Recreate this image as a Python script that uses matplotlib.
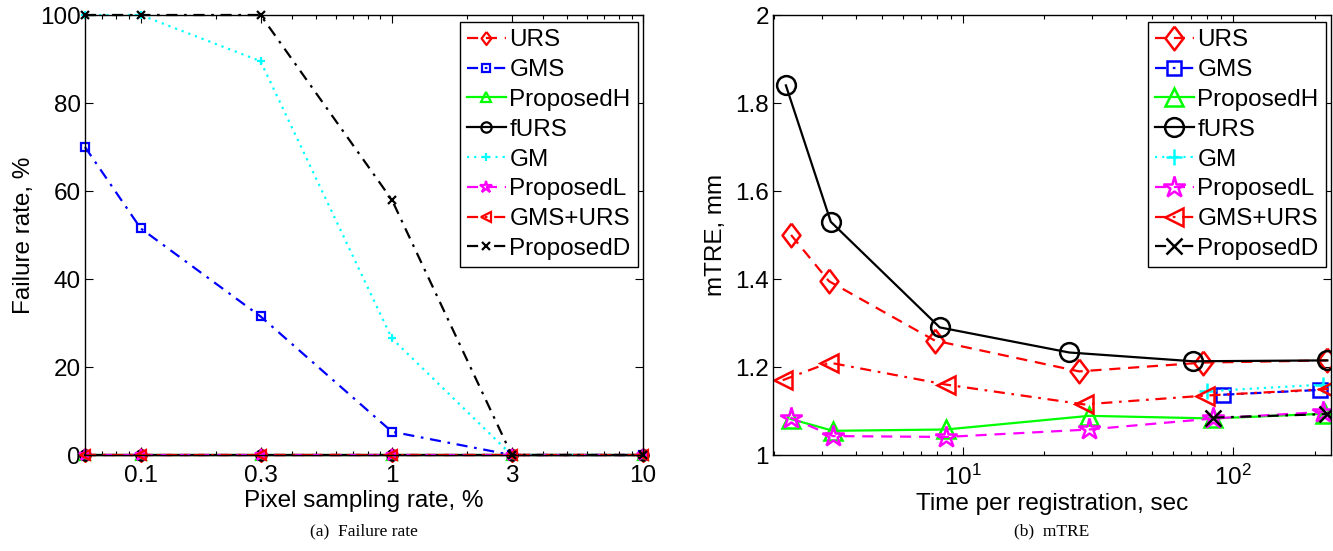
# coding: utf-8

import numpy as np
import matplotlib
matplotlib.use("agg")
import matplotlib.pyplot as plt
from matplotlib.ticker import FixedLocator, FixedFormatter, LogLocator, NullFormatter

plt.rcParams["font.family"] = ["Liberation Sans", "DejaVu Sans"]
plt.rcParams["mathtext.fontset"] = "custom"
plt.rcParams["mathtext.rm"] = "Liberation Sans"
plt.rcParams["mathtext.default"] = "regular"

# ## Data: (a) failure rate vs pixel sampling rate ##
rate = [0.06, 0.1, 0.3, 1, 3, 10]
rate_ticks = [0.1, 0.3, 1, 3, 10]
rate_ticklabels = ["0.1", "0.3", "1", "3", "10"]
fail_urs = [0, 0, 0, 0, 0, 0]
fail_gms = [70, 51.5, 31.5, 5.3, 0, 0]
fail_proph = [0, 0, 0, 0, 0, 0]
fail_furs = [0, 0, 0, 0, 0, 0]
fail_gm = [100, 100, 89.5, 26.5, 0, 0]
fail_propl = [0, 0, 0, 0, 0, 0]
fail_gmsurs = [0, 0, 0, 0, 0, 0]
fail_propd = [100, 100, 100, 58, 0, 0]

# ## Data: (b) mTRE vs time per registration ##
t_urs = [2.31, 3.19, 7.87, 26.9, 77.4, 223]
m_urs = [1.50, 1.395, 1.26, 1.19, 1.21, 1.215]
t_gms = [91.8, 210]
m_gms = [1.137, 1.148]
t_proph = [2.3, 3.3, 8.65, 29.3, 84.4, 219]
m_proph = [1.082, 1.055, 1.058, 1.089, 1.083, 1.094]
t_furs = [2.21, 3.24, 8.2, 24.7, 71, 223]
m_furs = [1.84, 1.53, 1.29, 1.233, 1.213, 1.215]
t_gm = [80, 215]
m_gm = [1.145, 1.16]
t_propl = [2.3, 3.3, 8.65, 29.3, 84.4, 215]
m_propl = [1.085, 1.043, 1.041, 1.058, 1.083, 1.098]
t_gmsurs = [2.15, 3.2, 8.65, 28, 78.7, 225]
m_gmsurs = [1.17, 1.21, 1.16, 1.115, 1.135, 1.15]
t_propd = [84.4, 223]
m_propd = [1.085, 1.093]

labels = ["URS", "GMS", "ProposedH", "fURS", "GM", "ProposedL", "GMS+URS",
          "ProposedD"]
colors = ["#ff0000", "#0000ff", "#00ff00", "#000000", "#00ffff", "#ff00ff",
          "#ff0000", "#000000"]
dash = (0, (5, 3.5))
dashdot = (0, (5, 3, 1.2, 3))
dots = (0, (1, 2.2))
lstyles = [dash, dashdot, "-", "-", dots, dash, dashdot, dashdot]
diamond = [(0, 1), (0.76, 0), (0, -1), (-0.76, 0), (0, 1)]
markers = [diamond, "s", "^", "o", "+", "*", "<", "x"]
# marker sizes (pt) for the big markers in the right panel
big_ms = [17, 10.5, 13.5, 13.5, 11, 16, 13.5, 11]

fs = 17.5


def _style_axes(ax):
    ax.tick_params(which="both", direction="in", top=True, right=True,
                   labelsize=fs, width=0.8)
    ax.tick_params(which="major", length=6)
    ax.tick_params(which="minor", length=3)
    ax.tick_params(axis="y", pad=3)
    ax.tick_params(axis="x", pad=7)
    for s in ax.spines.values():
        s.set_linewidth(1.0)


def _legend(ax):
    leg = ax.legend(loc="upper right", bbox_to_anchor=(0.991, 0.984),
                    fontsize=fs, frameon=True, fancybox=False, framealpha=1,
                    edgecolor="k", borderaxespad=0, borderpad=0.3,
                    handlelength=1.6, handletextpad=0.15, labelspacing=0.32)
    leg.get_frame().set_linewidth(1.0)


fig = plt.figure(figsize=(13.33, 5.51), dpi=100)
axl = fig.add_axes([85 / 1333, 96 / 551, 558 / 1333, 440 / 551])
axr = fig.add_axes([773 / 1333, 96 / 551, 558 / 1333, 440 / 551])

# ## Left: failure rate ##
fails = [fail_urs, fail_gms, fail_proph, fail_furs, fail_gm, fail_propl,
         fail_gmsurs, fail_propd]
for i, y in enumerate(fails):
    axl.plot(rate, y, ls=lstyles[i], color=colors[i], marker=markers[i],
             ms=big_ms[i] * 0.55, mew=1.6, mfc="none", lw=1.6,
             label=labels[i], clip_on=False)
axl.set_xscale("log")
axl.set_xlim(rate[0], rate[-1])
axl.set_ylim(0, 100)
axl.xaxis.set_major_locator(FixedLocator(rate_ticks))
axl.xaxis.set_major_formatter(FixedFormatter(rate_ticklabels))
axl.xaxis.set_minor_locator(LogLocator(base=10, subs=np.arange(2, 10)))
axl.xaxis.set_minor_formatter(NullFormatter())
axl.set_yticks([0, 20, 40, 60, 80, 100])
_style_axes(axl)
axl.set_xlabel("Pixel sampling rate, %", fontsize=fs, labelpad=2)
axl.set_ylabel("Failure rate, %", fontsize=fs, labelpad=4)
_legend(axl)

# ## Right: mTRE ##
ts = [t_urs, t_gms, t_proph, t_furs, t_gm, t_propl, t_gmsurs, t_propd]
ms_ = [m_urs, m_gms, m_proph, m_furs, m_gm, m_propl, m_gmsurs, m_propd]
for i in range(len(ts)):
    axr.plot(ts[i], ms_[i], ls=lstyles[i], color=colors[i], marker=markers[i],
             ms=big_ms[i], mew=1.8, mfc="none", lw=1.6, label=labels[i])
axr.set_xscale("log")
axr.set_xlim(1.98, 230)
axr.set_ylim(1, 2)
axr.set_yticks([1, 1.2, 1.4, 1.6, 1.8, 2])
axr.set_yticklabels(["1", "1.2", "1.4", "1.6", "1.8", "2"])
axr.xaxis.set_major_locator(FixedLocator([10, 100]))
axr.xaxis.set_major_formatter(FixedFormatter([r"$10^{1}$", r"$10^{2}$"]))
axr.xaxis.set_minor_locator(LogLocator(base=10, subs=np.arange(2, 10)))
axr.xaxis.set_minor_formatter(NullFormatter())
_style_axes(axr)
axr.set_xlabel("Time per registration, sec", fontsize=fs, labelpad=2)
axr.set_ylabel("mTRE, mm", fontsize=fs, labelpad=6)
_legend(axr)

# ## Captions ##
fig.text(364 / 1333, 1 - 531 / 551, "(a)  Failure rate", ha="center",
         va="center", fontsize=12.5, family=["Liberation Serif"])
fig.text(1052 / 1333, 1 - 531 / 551, "(b)  mTRE", ha="center",
         va="center", fontsize=12.5, family=["Liberation Serif"])

plt.savefig("out.png", dpi=100)
